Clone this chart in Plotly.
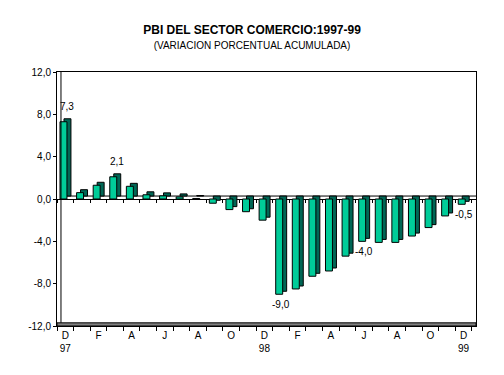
import plotly.graph_objects as go

months = ["D","E","F","M","A","M","J","J","A","S","O","N",
          "D","E","F","M","A","M","J","J","A","S","O","N","D"]
values = [7.3, 0.6, 1.3, 2.1, 1.2, 0.4, 0.3, 0.2, 0.05, -0.4, -1.0, -1.2,
          -2.0, -9.0, -8.5, -7.3, -6.8, -5.4, -4.0, -4.1, -4.1, -3.5, -2.7, -1.6, -0.5]
tick_idx = [0, 2, 4, 6, 8, 10, 12, 14, 16, 18, 20, 22, 24]
tick_text = ["D<br>97", "F", "A", "J", "A", "O", "D<br>98", "F", "A", "J", "A", "O", "D<br>99"]
label_idx = [0, 3, 13, 18, 24]
label_text = ["7,3", "2,1", "-9,0", "-4,0", "-0,5"]
y_ticks = [-12, -8, -4, 0, 4, 8, 12]
y_text = ["-12,0", "-8,0", "-4,0", "0,0", "4,0", "8,0", "12,0"]

x = list(range(len(values)))
depth = 0.28
XMAX = 24.75
FONT = "Arial, Liberation Sans, sans-serif"

fig = go.Figure()
# back (side/top) faces
fig.add_trace(go.Bar(x=x, y=values, base=[depth]*len(values), offset=-0.08, width=0.42,
                     marker=dict(color="#006655", line=dict(color="black", width=1)),
                     hoverinfo="skip", showlegend=False))
# front faces
fig.add_trace(go.Bar(x=x, y=values, offset=-0.32, width=0.42,
                     marker=dict(color="#00CC99", line=dict(color="black", width=1)),
                     showlegend=False))
# helper trace for zero-line tick axis
fig.add_trace(go.Scatter(x=[None], y=[None], xaxis="x2", yaxis="y", showlegend=False))

for i, t in zip(label_idx, label_text):
    v = values[i]
    fig.add_annotation(x=i, y=v, text=t, showarrow=False,
                       yshift=15 if v > 0 else -10, xshift=2 if v > 0 else 0,
                       font=dict(family=FONT, size=10, color="black"))

# floor band
fig.add_shape(type="rect", xref="x", yref="y", x0=-0.5, x1=XMAX, y0=-12, y1=-11.7,
              fillcolor="#808080", line=dict(color="black", width=1), layer="above")
# inner wall line
fig.add_shape(type="line", xref="x", yref="y", x0=-0.26, x1=-0.26, y0=-11.7, y1=12,
              line=dict(color="black", width=1))
# back edge of zero plane
fig.add_shape(type="line", xref="x", yref="y", x0=-0.26, x1=XMAX, y0=depth, y1=depth,
              line=dict(color="black", width=1), layer="below")

fig.update_layout(
    width=496, height=367,
    margin=dict(l=49, r=28, t=64, b=49),
    paper_bgcolor="white", plot_bgcolor="white",
    barmode="overlay",
    title=dict(text="<b>PBI DEL SECTOR COMERCIO:1997-99</b><br><span style='font-size:10px'>(VARIACION PORCENTUAL ACUMULADA)</span>",
               x=0.492, xanchor="center", y=0.93, yanchor="top",
               font=dict(family=FONT, size=12, color="black")),
    font=dict(family=FONT, size=10, color="black"),
    xaxis=dict(range=[-0.5, XMAX], tickmode="array", tickvals=tick_idx, ticktext=tick_text,
               ticks="", showline=True, linecolor="black", mirror=True, showgrid=False,
               zeroline=False, tickfont=dict(size=10),
               minor=dict(tickmode="array", tickvals=[i + 0.5 for i in range(-1, 25)],
                          ticks="outside", ticklen=4, tickcolor="black")),
    xaxis2=dict(range=[-0.5, XMAX], overlaying="x", anchor="free", position=0.5,
                tickmode="array", tickvals=[i + 0.5 for i in range(-1, 25)],
                ticks="outside", ticklen=3, tickcolor="black", showticklabels=False,
                showline=False, showgrid=False, zeroline=False),
    yaxis=dict(range=[-12, 12], tickmode="array", tickvals=y_ticks, ticktext=y_text,
               ticks="outside", ticklen=3, tickcolor="black", showline=True,
               linecolor="black", mirror=True, showgrid=False,
               zeroline=True, zerolinecolor="black", zerolinewidth=1,
               tickfont=dict(size=10)),
)

fig.write_html("out.html")
